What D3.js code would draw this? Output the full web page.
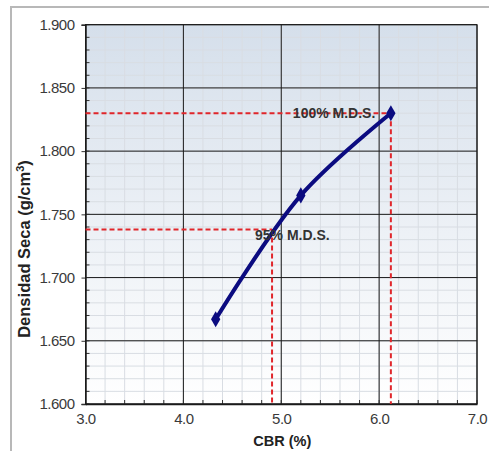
<!DOCTYPE html>
<html><head><meta charset="utf-8">
<script src="https://cdn.jsdelivr.net/npm/d3@7"></script>
<style>body{margin:0;background:#fff;} svg{display:block;font-family:"Liberation Sans",Arial,sans-serif;}</style>
</head><body><div id="c"></div>
<script>
const cbr = [4.33, 5.2, 6.12];
const densidad = [1.667, 1.765, 1.830];
const refLabels = ["100% M.D.S.", "95% M.D.S."];
const refCbr = [6.12, 4.906];
const refDens = [1.830, 1.738];
const xTicks = [3, 4, 5, 6, 7];
const yTicks = [1.6, 1.65, 1.7, 1.75, 1.8, 1.85, 1.9];

const W = 489, H = 451;
const m = {l: 85.5, r: 477, t: 24.7, b: 404};
const svg = d3.select("#c").append("svg").attr("width", W).attr("height", H);
const x = d3.scaleLinear().domain([3, 7]).range([m.l, m.r]);
const y = d3.scaleLinear().domain([1.6, 1.9]).range([m.b, m.t]);

// outer frame
svg.append("rect").attr("x", 11).attr("y", 7).attr("width", 520).attr("height", 500)
  .attr("fill", "#fff").attr("stroke", "#b8b8b8").attr("stroke-width", 2);

const defs = svg.append("defs");
const g = defs.append("linearGradient").attr("id", "bg").attr("x1", 0).attr("y1", 0).attr("x2", 0).attr("y2", 1);
g.append("stop").attr("offset", "0%").attr("stop-color", "#d5dfeb");
g.append("stop").attr("offset", "55%").attr("stop-color", "#edf1f6");
g.append("stop").attr("offset", "100%").attr("stop-color", "#ffffff");
svg.append("rect").attr("x", m.l).attr("y", m.t).attr("width", m.r - m.l).attr("height", m.b - m.t).attr("fill", "url(#bg)");

// minor grid
const xMinor = d3.range(3, 7.0001, 0.2);
const yMinor = d3.range(1.6, 1.9001, 0.01);
svg.append("g").selectAll("line").data(xMinor).join("line")
  .attr("x1", d => x(d)).attr("x2", d => x(d)).attr("y1", m.t).attr("y2", m.b)
  .attr("stroke", "#d9dde3").attr("stroke-width", 1);
svg.append("g").selectAll("line").data(yMinor).join("line")
  .attr("x1", m.l).attr("x2", m.r).attr("y1", d => y(d)).attr("y2", d => y(d))
  .attr("stroke", "#d9dde3").attr("stroke-width", 1);
// major grid
svg.append("g").selectAll("line").data(xTicks).join("line")
  .attr("x1", d => x(d)).attr("x2", d => x(d)).attr("y1", m.t).attr("y2", m.b)
  .attr("stroke", "#1a1a1a").attr("stroke-width", 1);
svg.append("g").selectAll("line").data(yTicks).join("line")
  .attr("x1", m.l).attr("x2", m.r).attr("y1", d => y(d)).attr("y2", d => y(d))
  .attr("stroke", "#1a1a1a").attr("stroke-width", 1);

// minor ticks (inside)
svg.append("g").selectAll("line").data(xMinor).join("line")
  .attr("x1", d => x(d)).attr("x2", d => x(d)).attr("y1", m.b).attr("y2", m.b - 4)
  .attr("stroke", "#333");
svg.append("g").selectAll("line").data(yMinor).join("line")
  .attr("x1", m.l).attr("x2", m.l + 4).attr("y1", d => y(d)).attr("y2", d => y(d))
  .attr("stroke", "#333");

// axes
const xAxis = svg.append("g").attr("transform", `translate(0,${m.b})`)
  .call(d3.axisBottom(x).tickValues(xTicks).tickFormat(d3.format(".1f")).tickSize(0).tickPadding(9));
const yAxis = svg.append("g").attr("transform", `translate(${m.l},0)`)
  .call(d3.axisLeft(y).tickValues(yTicks).tickFormat(d3.format(".3f")).tickSize(4).tickPadding(7));
[xAxis, yAxis].forEach(a => {
  a.select(".domain").attr("stroke", "#1a1a1a").attr("stroke-width", 1.5);
  a.selectAll("text").attr("font-size", 15).attr("letter-spacing", "-0.5px").attr("fill", "#3a3a3a")
    .attr("font-family", "Liberation Sans, Arial, sans-serif");
  a.selectAll(".tick line").attr("stroke", "#333");
});
svg.append("rect").attr("x", m.l).attr("y", m.t).attr("width", m.r - m.l).attr("height", m.b - m.t)
  .attr("fill", "none").attr("stroke", "#1a1a1a").attr("stroke-width", 1);

// reference dashed lines
const ref = svg.append("g").attr("stroke", "#e0262b").attr("stroke-width", 2).attr("stroke-dasharray", "5,3").attr("fill", "none");
refCbr.forEach((c, i) => {
  ref.append("path").attr("d", `M${x(3)},${y(refDens[i])}H${x(c)}`);
  ref.append("path").attr("d", `M${x(c)},${y(refDens[i])}V${y(1.6)}`);
});

// curve
const pts = cbr.map((c, i) => [c, densidad[i]]);
const line = d3.line().x(d => x(d[0])).y(d => y(d[1])).curve(d3.curveCatmullRom.alpha(0.5));
svg.append("path").datum(pts).attr("d", line).attr("fill", "none").attr("stroke", "#0b0b80").attr("stroke-width", 4);
svg.append("g").selectAll("path").data(pts).join("path")
  .attr("d", d3.symbol(d3.symbolDiamond, 75))
  .attr("transform", d => `translate(${x(d[0])},${y(d[1])})`)
  .attr("fill", "#0b0b80");

// labels
const labOffsets = [[-98, 5], [-17, 10]];
refLabels.forEach((t, i) => {
  svg.append("text").attr("x", x(refCbr[i]) + labOffsets[i][0]).attr("y", y(refDens[i]) + labOffsets[i][1])
    .attr("font-size", 14).attr("font-weight", "bold").attr("fill", "#333").text(t);
});

svg.append("text").attr("x", x(5) + 1).attr("y", 446).attr("text-anchor", "middle")
  .attr("font-size", 14.5).attr("font-weight", "bold").attr("fill", "#222").text("CBR (%)");
svg.append("text").attr("transform", `translate(30,249) rotate(-90)`).attr("text-anchor", "middle")
  .attr("font-size", 16.5).attr("font-weight", "bold").attr("fill", "#222")
  .html('Densidad Seca (g/cm<tspan baseline-shift="super" font-size="11">3</tspan>)');
</script></body></html>
